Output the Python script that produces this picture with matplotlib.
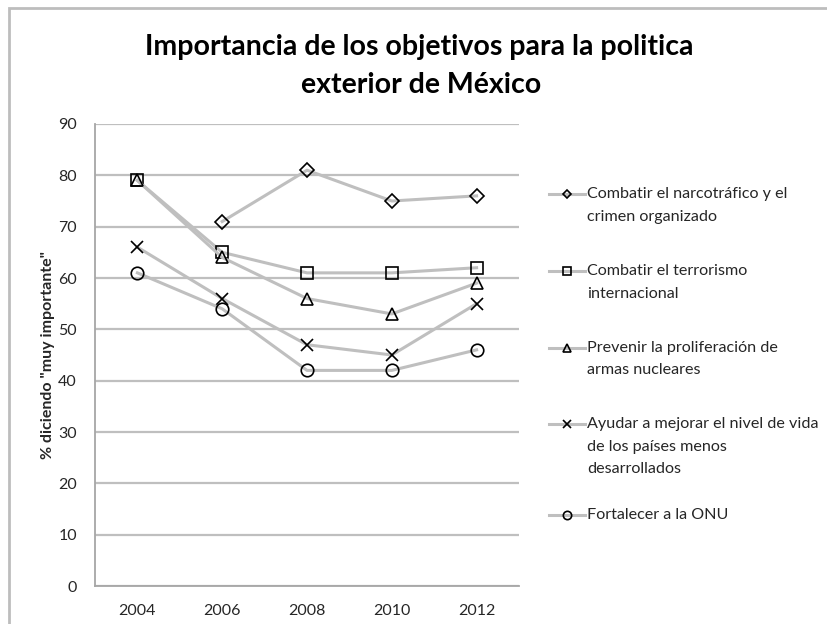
import numpy as np
import matplotlib
matplotlib.use("Agg")
import matplotlib.pyplot as plt
from matplotlib.lines import Line2D
from matplotlib.patches import Rectangle

plt.rcParams['font.family'] = ['Lato', 'DejaVu Sans']

# Datos: % que dice "muy importante" por año
years = ['2004', '2006', '2008', '2010', '2012']
narco = [np.nan, 71, 81, 75, 76]
terrorismo = [79, 65, 61, 61, 62]
nucleares = [79, 64, 56, 53, 59]
nivel_vida = [66, 56, 47, 45, 55]
onu = [61, 54, 42, 42, 46]

series = [narco, terrorismo, nucleares, nivel_vida, onu]
labels = ['Combatir el narcotráfico y el\ncrimen organizado',
          'Combatir el terrorismo\ninternacional',
          'Prevenir la proliferación de\narmas nucleares',
          'Ayudar a mejorar el nivel de vida\nde los países menos\ndesarrollados',
          'Fortalecer a la ONU']
markers = ['D', 's', '^', 'x', 'o']
msizes = [7, 9, 8.5, 9, 9]
leg_msizes = [4.5, 6, 5.5, 6, 6]

W, H = 827, 624
gray = '#bfbfbf'
txt = '#262626'

fig = plt.figure(figsize=(W / 100, H / 100), dpi=100)
ax = fig.add_axes([95 / W, 1 - 586 / H, (519 - 95) / W, (586 - 124) / H])

x = np.arange(len(years))
for vals, m, ms in zip(series, markers, msizes):
    ax.plot(x, vals, color=gray, lw=2.2, marker=m, ms=ms,
            mfc='none', mec='black', mew=1.2, zorder=3)

ax.set_xlim(-0.5, len(years) - 0.5)
ax.set_ylim(0, 90)
ax.set_yticks(range(0, 91, 10))
ax.set_xticks(x)
ax.set_xticklabels(years)
ax.yaxis.grid(True, color=gray, lw=1.6)
ax.set_axisbelow(True)
for s in ['top', 'right']:
    ax.spines[s].set_visible(False)
for s in ['left', 'bottom']:
    ax.spines[s].set_color('#a6a6a6')
    ax.spines[s].set_linewidth(1.3)
ax.tick_params(length=0, labelsize=11.5, colors=txt)
ax.tick_params(axis='y', pad=13)
ax.tick_params(axis='x', pad=13)

ax.set_ylabel('% diciendo "muy importante"', fontsize=11.5, fontweight='bold',
              color=txt, labelpad=2)

fig.text(419 / W, 1 - 47 / H, 'Importancia de los objetivos para la politica',
         ha='center', va='center', fontsize=20.5, fontweight='bold', color='black')
fig.text(421 / W, 1 - 85 / H, 'exterior de México',
         ha='center', va='center', fontsize=20.5, fontweight='bold', color='black')

# leyenda a mano: el marcador va alineado con la primera línea
first_rows = [194, 271, 348, 424, 515]
line_h = 22.5
for lab, m, ms, y0 in zip(labels, markers, leg_msizes, first_rows):
    fy = 1 - y0 / H
    fig.add_artist(Line2D([549 / W, 585 / W], [fy, fy], color=gray, lw=2.2))
    fig.add_artist(Line2D([567 / W], [fy], marker=m, ms=ms, mfc='none',
                          mec='black', mew=1.2, ls='none'))
    for i, ln in enumerate(lab.split('\n')):
        fig.text(587 / W, 1 - (y0 + i * line_h) / H, ln, ha='left', va='center',
                 fontsize=11.6, color=txt)

# marco del gráfico
fig.add_artist(Rectangle((9 / W, -0.1), 1.2, 1.1 - 8 / H, transform=fig.transFigure,
                         fill=False, ec='#bdbdbd', lw=2))

fig.savefig('out.png', dpi=100)
